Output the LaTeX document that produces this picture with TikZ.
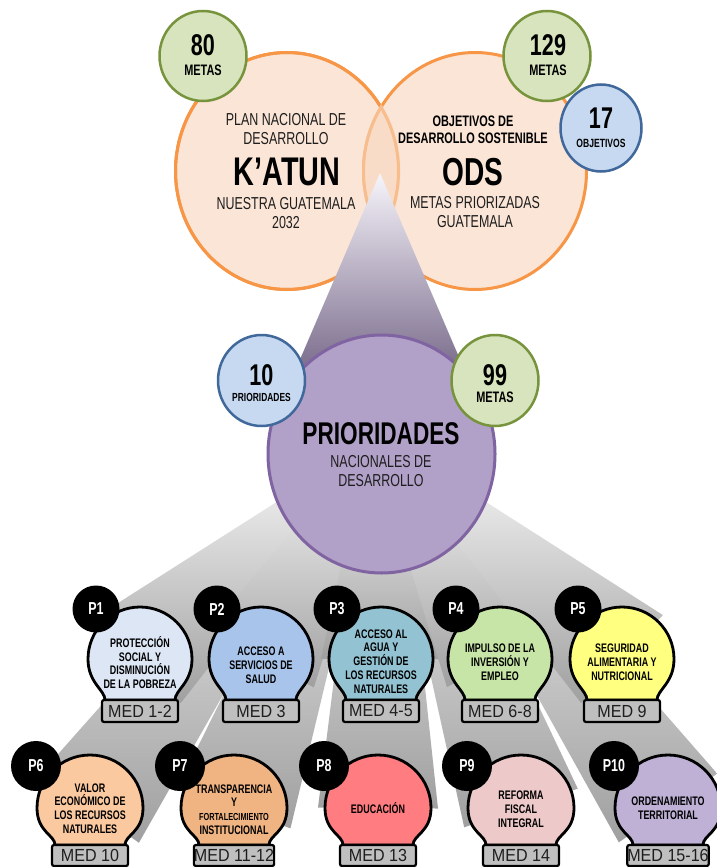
\documentclass[tikz,border=0pt]{standalone}
\usepackage{fontspec}
\setmainfont{Liberation Sans}[FakeStretch=0.72]
\newfontfamily\medfont{Liberation Sans}[FakeStretch=0.92]
\usetikzlibrary{calc,shapes.geometric}
\definecolor{orangeS}{HTML}{F79646}
\definecolor{orangeF}{HTML}{FBE5D6}
\definecolor{lensC}{HTML}{F8D7BD}
\definecolor{greenS}{HTML}{77933C}
\definecolor{greenF}{HTML}{D7E4BD}
\definecolor{blueS}{HTML}{41689A}
\definecolor{blueF}{HTML}{C6D9F1}
\definecolor{purpS}{HTML}{8064A2}
\definecolor{purpF}{HTML}{B1A0C7}
\definecolor{triTop}{HTML}{F7F5FB}
\definecolor{triMid}{HTML}{B8A8CF}
\definecolor{triBot}{HTML}{5B4A70}
\definecolor{beamTop}{HTML}{EEEEEE}
\definecolor{beamBot}{HTML}{A0A0A0}
\definecolor{boxF}{HTML}{BFBFBF}
\definecolor{txtD}{HTML}{1E1E1E}
\definecolor{c1}{HTML}{DCE6F4}
\definecolor{c2}{HTML}{A8C4EA}
\definecolor{c3}{HTML}{93C3D2}
\definecolor{c4}{HTML}{C7E5A6}
\definecolor{c5}{HTML}{FFFF80}
\definecolor{c6}{HTML}{FBC9A0}
\definecolor{c7}{HTML}{F0B483}
\definecolor{c8}{HTML}{FF7C80}
\definecolor{c9}{HTML}{EEC9C9}
\definecolor{c10}{HTML}{BEB1D5}
\tikzset{
  bigorange/.style={ellipse, draw=orangeS, fill=orangeF, line width=3pt, minimum width=223pt, minimum height=237pt, inner sep=0pt},
  greenc/.style={ellipse, draw=greenS, fill=greenF, line width=2.5pt, minimum width=87pt, minimum height=90pt, inner sep=0pt},
  bluec/.style={ellipse, draw=blueS, fill=blueF, line width=2.5pt, minimum width=87pt, minimum height=90pt, inner sep=0pt},
  purpc/.style={ellipse, draw=purpS, fill=purpF, line width=3pt, minimum width=227pt, minimum height=238pt, inner sep=0pt},
  thin/.style={inner sep=0pt, text=txtD, align=center, font=\fontsize{17.3}{19}\selectfont},
  boldtxt/.style={inner sep=0pt, text=black, align=center},
  num/.style={inner sep=0pt, text=black, font=\bfseries\fontsize{30}{32}\selectfont},
  lab/.style={inner sep=0pt, text=black, font=\bfseries\fontsize{15.2}{17}\selectfont},
  bulbshape/.style={draw=black, line width=2.8pt},
  medbox/.style={rectangle, draw=black, fill=boxF, line width=2.2pt, rounded corners=2pt, minimum width=76pt, inner sep=0pt, font=\medfont\fontsize{17.5}{19}\selectfont, text=txtD},
  pcirc/.style={circle, fill=black, inner sep=0pt, text=white, font=\bfseries\fontsize{17.3}{19}\selectfont},
  bulbtxt/.style={inner sep=0pt, align=center, text=black, font=\bfseries\fontsize{12.4}{13.8}\selectfont},
}
% row parameters
\newcommand\rowone{\def\rcy{659}\def\rr{52}\def\rbt{700}\def\rbb{722}\def\rpy{609}\def\rpx{44}\def\rpd{47}}
\newcommand\rowtwo{\def\rcy{808}\def\rr{53}\def\rbt{845}\def\rbb{866}\def\rpy{766}\def\rpx{54}\def\rpd{50}}
% #1 id, #2 cx, #3 fill, #4 P label, #5 MED label, #6 text, #7 text y
\newcommand\bulbitem[7]{%
  \path[bulbshape, fill=#3] (#2-35,\rbt) .. controls (#2-35,\rbt-10) and (#2-\rr,\rcy+24) .. (#2-\rr,\rcy)
     arc[start angle=180, end angle=0, radius=\rr*1pt]
     .. controls (#2+\rr,\rcy+24) and (#2+35,\rbt-10) .. (#2+35,\rbt) -- cycle;
  \node[medbox, minimum height=\rbb*1pt-\rbt*1pt] (#1m) at (#2,{(\rbt+\rbb)/2}) {#5};
  \node[pcirc, minimum size=\rpd*1pt] (#1p) at (#2-\rpx,\rpy) {#4};
  \node[bulbtxt] (#1t) at (#2,#7) {#6};
}
% beam: #1 id, #2 cx, #3 cy
\newcommand\beam[3]{%
  \coordinate (#1A) at ({381.5+0.2*(#2-381.5)},480);
  \coordinate (#1B) at (#2,#3);
  \shade[top color=beamTop, bottom color=beamBot] ($(#1A)+(-22,0)$) -- ($(#1B)!60pt!90:(#1A)$) -- ($(#1B)!60pt!-90:(#1A)$) -- ($(#1A)+(22,0)$) -- cycle;
}
\begin{document}
\begin{tikzpicture}[x=1pt,y=-1pt]
\useasboundingbox (0,0) rectangle (716,867);
\fill[white] (0,0) rectangle (716,867);
% beams
\beam{b6}{90}{808}
\beam{b7}{234}{808}
\beam{b8}{378}{808}
\beam{b9}{521}{808}
\beam{b10}{668}{808}
\beam{b1}{140}{659}
\beam{b2}{261}{659}
\beam{b3}{381}{659}
\beam{b4}{500}{659}
\beam{b5}{622}{659}
% top circles
\node[bigorange] (katun) at (287,171) {};
\node[bigorange] (ods) at (475,171) {};
\draw[orangeS, line width=3pt] (287,171) ellipse [x radius=111.5pt, y radius=118.5pt];
\begin{scope}
  \clip (287,171) ellipse [x radius=113.5pt, y radius=120.5pt];
  \fill[lensC, opacity=0.6] (475,171) ellipse [x radius=113pt, y radius=120.5pt];
\end{scope}
% triangle
\shade[top color=triTop, middle color=triMid, bottom color=triBot] (380,173) -- (274,420) -- (486,420) -- cycle;
% small top circles
\node[greenc] (g80) at (203,56) {};
\node[greenc] (g129) at (547,56) {};
\node[bluec, minimum width=81pt, minimum height=87pt] (b17) at (601,128) {};
% prioridades
\node[purpc] (prio) at (381.5,454) {};
\node[bluec, minimum height=91pt] (b10c) at (261.5,380.5) {};
\node[greenc, minimum height=91pt] (g99) at (495,380.5) {};
% texts top
\node[thin] (k1) at (286,129.5) {PLAN NACIONAL DE\\DESARROLLO};
\node[boldtxt, font=\bfseries\fontsize{40}{42}\selectfont] (k2) at (287,172) {K’ATUN};
\node[thin] (k3) at (286,213.5) {NUESTRA GUATEMALA\\2032};
\node[boldtxt, font=\bfseries\fontsize{15.2}{16.5}\selectfont] (o1) at (473,130) {OBJETIVOS DE\\DESARROLLO SOSTENIBLE};
\node[boldtxt, font=\bfseries\fontsize{39}{42}\selectfont] (o2) at (473,172) {ODS};
\node[thin] (o3) at (475,212.5) {METAS PRIORIZADAS\\GUATEMALA};
\node[num] (n80) at (203,45) {80};
\node[lab] (l80) at (203,70) {METAS};
\node[num] (n129) at (548,45) {129};
\node[lab] (l129) at (548,70) {METAS};
\node[num] (n17) at (601,118) {17};
\node[lab, font=\bfseries\fontsize{11.9}{13}\selectfont] (l17) at (601,143) {OBJETIVOS};
\node[num] (n10) at (261.5,375) {10};
\node[lab, font=\bfseries\fontsize{11.7}{13}\selectfont] (l10) at (261.5,397) {PRIORIDADES};
\node[num] (n99) at (495,375) {99};
\node[lab] (l99) at (495,397) {METAS};
\node[boldtxt, font=\bfseries\fontsize{31.4}{34}\selectfont] (pt1) at (381,434) {PRIORIDADES};
\node[thin] (pt2) at (381,471.5) {NACIONALES DE\\DESARROLLO};
% items row 1
\rowone
\bulbitem{i1}{140}{c1}{P1}{MED 1-2}{PROTECCIÓN\\SOCIAL Y\\DISMINUCIÓN\\DE LA POBREZA}{662.5}
\bulbitem{i2}{261}{c2}{P2}{MED 3}{ACCESO A\\SERVICIOS DE\\SALUD}{665}
\bulbitem{i3}{381}{c3}{P3}{MED 4-5}{ACCESO AL\\AGUA Y\\GESTIÓN DE\\LOS RECURSOS\\NATURALES}{661.5}
\bulbitem{i4}{500}{c4}{P4}{MED 6-8}{IMPULSO DE LA\\INVERSIÓN Y\\EMPLEO}{662}
\bulbitem{i5}{622}{c5}{P5}{MED 9}{SEGURIDAD\\ALIMENTARIA Y\\NUTRICIONAL}{662}
% items row 2
\rowtwo
\bulbitem{i6}{90}{c6}{P6}{MED 10}{VALOR\\ECONÓMICO DE\\LOS RECURSOS\\NATURALES}{808.5}
\bulbitem{i7}{234}{c7}{P7}{MED 11-12}{TRANSPARENCIA\\Y\\{\fontsize{10.2}{11}\selectfont FORTALECIMIENTO}\\INSTITUCIONAL}{809.5}
\bulbitem{i8}{378}{c8}{P8}{MED 13}{EDUCACIÓN}{808}
\bulbitem{i9}{521}{c9}{P9}{MED 14}{REFORMA\\FISCAL\\INTEGRAL}{809}
\bulbitem{i10}{668}{c10}{P10}{MED 15-16}{ORDENAMIENTO\\TERRITORIAL}{808.5}
\end{tikzpicture}
\end{document}
